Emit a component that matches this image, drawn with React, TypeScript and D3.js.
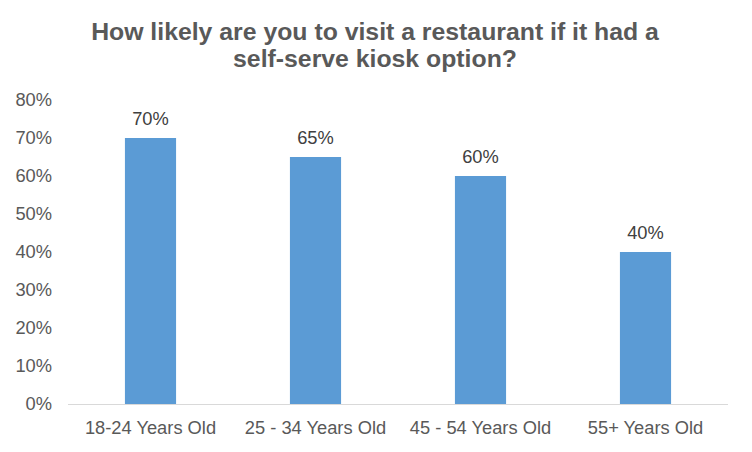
import React from "react";
import * as d3 from "d3";

const categories = ["18-24 Years Old", "25 - 34 Years Old", "45 - 54 Years Old", "55+ Years Old"];
const values = [0.7, 0.65, 0.6, 0.4];
const yTicks = [0, 0.1, 0.2, 0.3, 0.4, 0.5, 0.6, 0.7, 0.8];
const titleLines = ["How likely are you to visit a restaurant if it had a", "self-serve kiosk option?"];

const W = 752;
const H = 452;
const margin = { left: 68, right: 24, top: 100, bottom: 48 };
const font = "'Liberation Sans', Arial, sans-serif";
const textColor = "#595959";

export default function App() {
  const x = d3
    .scaleBand<string>()
    .domain(categories)
    .range([margin.left, W - margin.right])
    .paddingInner(0.69)
    .paddingOuter(0.345);
  const y = d3.scaleLinear().domain([0, 0.8]).range([H - margin.bottom, margin.top]);
  const fmt = d3.format(".0%");
  const fs = 18.3;

  return (
    <div style={{ margin: -8 }}>
      <svg width={W} height={H} style={{ display: "block" }} fontFamily={font}>
        <rect x={0.5} y={0.5} width={W - 1} height={H - 1} fill="#fff" stroke="#D9D9D9" />
        {titleLines.map((t, i) => (
          <text
            key={i}
            x={W / 2 - 1}
            y={39.5 + i * 27.5}
            textAnchor="middle"
            fontSize={24.8}
            fontWeight="bold"
            fill={textColor}
          >
            {t}
          </text>
        ))}
        {yTicks.map((t) => (
          <text key={t} x={52} y={y(t) + 6.3} textAnchor="end" fontSize={fs} fill={textColor}>
            {fmt(t)}
          </text>
        ))}
        {categories.map((c, i) => (
          <g key={c}>
            <rect
              x={x(c)}
              y={y(values[i])}
              width={x.bandwidth()}
              height={y(0) - y(values[i])}
              fill="#5B9BD5"
            />
            <text
              x={(x(c) as number) + x.bandwidth() / 2}
              y={y(values[i]) - 13}
              textAnchor="middle"
              fontSize={fs}
              fill="#404040"
            >
              {fmt(values[i])}
            </text>
            <text
              x={(x(c) as number) + x.bandwidth() / 2}
              y={433.5}
              textAnchor="middle"
              fontSize={fs}
              fill={textColor}
            >
              {c}
            </text>
          </g>
        ))}
        <line
          x1={margin.left}
          x2={W - margin.right}
          y1={y(0) + 0.5}
          y2={y(0) + 0.5}
          stroke="#D9D9D9"
          strokeWidth={1}
        />
      </svg>
    </div>
  );
}
